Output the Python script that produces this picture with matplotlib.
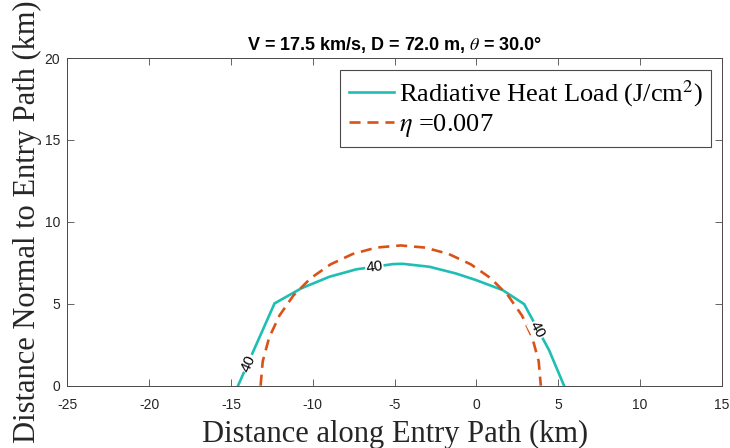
import matplotlib
matplotlib.use("Agg")
import matplotlib.pyplot as plt

# ---- data ----
heat_x = [-14.57, -12.34, -10.71, -8.98, -7.35, -5.12, -4.51, -2.88, -1.26, -0.04, 1.59, 2.91, 4.43, 5.35]
heat_y = [0.0, 5.02, 5.94, 6.65, 7.10, 7.42, 7.44, 7.26, 6.85, 6.45, 5.84, 4.98, 2.18, 0.0]

eta_x = [-13.19, -13.06, -12.67, -12.04, -11.19, -10.13, -8.91, -7.56, -6.12, -4.63,
         -3.14, -1.70, -0.35, 0.87, 1.93, 2.78, 3.41, 3.80, 3.93]
eta_y = [0.0, 1.49, 2.93, 4.28, 5.50, 6.56, 7.41, 8.04, 8.43, 8.56,
         8.43, 8.04, 7.41, 6.56, 5.50, 4.28, 2.93, 1.49, 0.0]

contour_level = "40"
label_x = [-13.92, -6.24, 3.72]
label_y = [1.35, 7.26, 3.40]
label_rot = [66, 7, -62]

xticks = [-25, -20, -15, -10, -5, 0, 5, 10, 15]
yticks = [0, 5, 10, 15, 20]

title = r"V = 17.5 km/s, D = 72.0 m, $\theta$ = 30.0°"
heat_label = r"Radiative Heat Load (J/cm$^2$)"
eta_label = r"$\eta$ =0.007"

# ---- style ----
plt.rcParams['mathtext.fontset'] = 'stix'
plt.rcParams['axes.unicode_minus'] = False
teal = '#1DBFB4'
orange = '#D95319'
axcol = '#4a4a4a'
sans = 'Liberation Sans'
serif = 'Liberation Serif'

fig = plt.figure(figsize=(7.30, 4.48), dpi=100)
ax = fig.add_axes([67.3/730, 62.3/448, 654.7/730, 327.7/448])

ax.plot(heat_x, heat_y, color=teal, lw=1.9, zorder=2, label=heat_label, solid_joinstyle='miter')
ax.plot(eta_x, eta_y, color=orange, lw=1.9, ls=(0, (4.2, 2.6)), zorder=2.5,
        label=eta_label, dash_capstyle='butt')

for lx, ly, r in zip(label_x, label_y, label_rot):
    ax.text(lx, ly, contour_level, rotation=r, ha='center', va='center',
            fontsize=11, family=sans, color='black', zorder=4,
            rotation_mode='anchor',
            bbox=dict(boxstyle='square,pad=0.05', fc='white', ec='none'))

ax.set_xlim(-25, 15)
ax.set_ylim(0, 20)
ax.set_xticks(xticks)
ax.set_yticks(yticks)
ax.tick_params(direction='in', length=5, width=0.6, color=axcol,
               top=True, right=True, labelsize=10, labelcolor='#262626')
ax.tick_params(axis='x', pad=8.5)
ax.tick_params(axis='y', pad=5)
for lab in ax.get_xticklabels() + ax.get_yticklabels():
    lab.set_family(sans)
for s in ax.spines.values():
    s.set_color(axcol)
    s.set_linewidth(0.7)

ax.set_title(title, fontsize=13, fontweight='bold', family=sans, pad=6, color='black')
ax.set_xlabel("Distance along Entry Path (km)", family=serif, fontsize=22, color='#262626', labelpad=6)
ax.set_ylabel("Distance Normal to Entry Path (km)", family=serif, fontsize=22, color='#262626', labelpad=2)

leg = ax.legend(loc='upper right', bbox_to_anchor=(0.983, 0.963), borderaxespad=0,
                prop={'family': serif, 'size': 19}, frameon=True, fancybox=False,
                handlelength=1.7, handletextpad=0.18, borderpad=0.32, labelspacing=0.1)
leg.get_frame().set_edgecolor(axcol)
leg.get_frame().set_linewidth(0.8)
leg.get_frame().set_alpha(1)

fig.savefig("out.png", dpi=100)
